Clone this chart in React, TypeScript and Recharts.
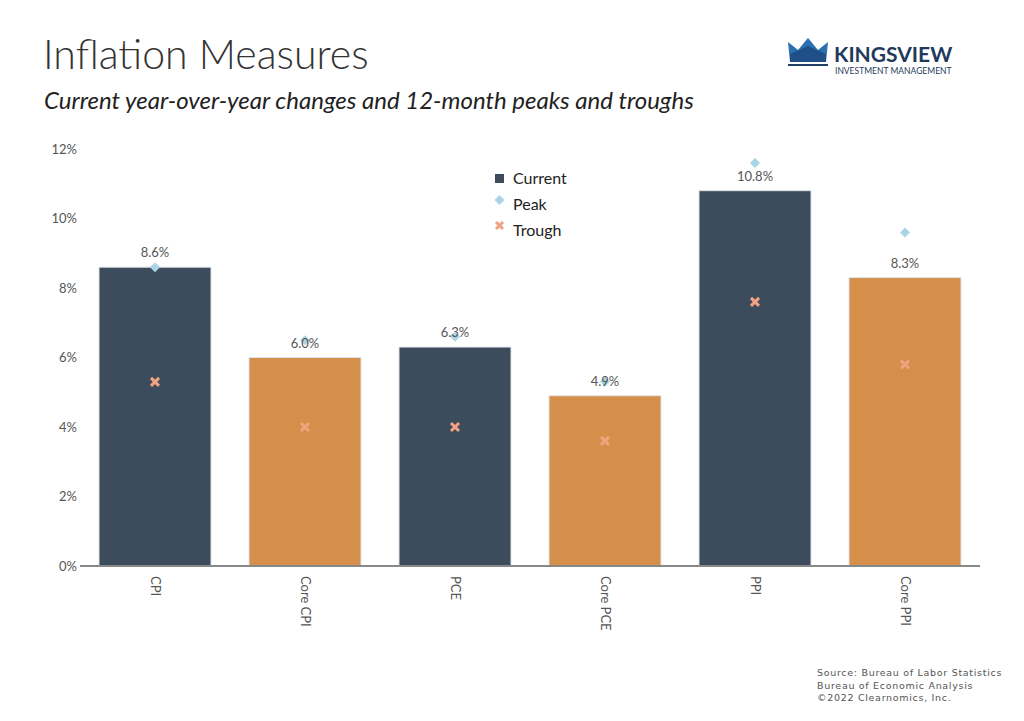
import React from 'react';
import {
  ComposedChart,
  Bar,
  Scatter,
  XAxis,
  YAxis,
  Cell,
  LabelList,
} from 'recharts';

const categories = ['CPI', 'Core CPI', 'PCE', 'Core PCE', 'PPI', 'Core PPI'];
const current = [8.6, 6.0, 6.3, 4.9, 10.8, 8.3];
const peak = [8.6, 6.5, 6.6, 5.3, 11.6, 9.6];
const trough = [5.3, 4.0, 4.0, 3.6, 7.6, 5.8];
const yTicks = [0, 2, 4, 6, 8, 10, 12];

const NAVY = '#3c4c5c';
const ORANGE = '#d68f4b';
const PEAK = '#a9d5e6';
const TROUGH = '#f2a382';
const FONT = 'Lato, "Open Sans", sans-serif';

const data = categories.map((name, i) => ({
  name,
  current: current[i],
  peak: peak[i],
  trough: trough[i],
}));

const XTick = (props: any) => {
  const { x, y, payload } = props;
  return (
    <text
      x={0}
      y={0}
      transform={`translate(${x - 4},${y + 2}) rotate(90)`}
      textAnchor="start"
      fontSize={13}
      fill="#555"
      fontFamily={FONT}
    >
      {payload.value}
    </text>
  );
};

const TroughShape = (props: any) => {
  const { cx, cy } = props;
  const d = 4;
  return (
    <g stroke={TROUGH} strokeWidth={3}>
      <line x1={cx - d} y1={cy - d} x2={cx + d} y2={cy + d} />
      <line x1={cx - d} y1={cy + d} x2={cx + d} y2={cy - d} />
    </g>
  );
};

const PeakShape = (props: any) => {
  const { cx, cy } = props;
  const r = 5;
  return (
    <polygon
      points={`${cx},${cy - r} ${cx + r},${cy} ${cx},${cy + r} ${cx - r},${cy}`}
      fill={PEAK}
    />
  );
};

const LegendBox = () => (
  <svg width={120} height={80} style={{ position: 'absolute', left: 493, top: 169 }}>
    <rect x={2} y={5} width={9} height={9} fill={NAVY} />
    <text x={20} y={15} fontSize={16} fill="#222" fontFamily={FONT}>Current</text>
    <polygon points="6.5,26 11.5,31 6.5,36 1.5,31" fill={PEAK} />
    <text x={20} y={41} fontSize={16} fill="#222" fontFamily={FONT}>Peak</text>
    <g stroke={TROUGH} strokeWidth={3}>
      <line x1={3} y1={53} x2={10} y2={60} />
      <line x1={3} y1={60} x2={10} y2={53} />
    </g>
    <text x={20} y={67} fontSize={16} fill="#222" fontFamily={FONT}>Trough</text>
  </svg>
);

const Logo = () => (
  <svg width={190} height={50} style={{ position: 'absolute', left: 784, top: 34 }}>
    <polygon points="4,8 14,16 24,4 34,16 44,8 42,28 6,28" fill="#2a6fb0" />
    <polygon points="6,20 24,12 42,20 42,28 6,28" fill="#1f4f86" />
    <rect x={4} y={30} width={40} height={2} fill="#1f3f66" />
    <text x={50} y={28} fontSize={21} fontWeight={700} fill="#1f3a5c" fontFamily={FONT}>
      KINGSVIEW
    </text>
    <text x={51} y={40} fontSize={8.5} fill="#1f3a5c" fontFamily={FONT}>
      INVESTMENT MANAGEMENT
    </text>
  </svg>
);

export default function App() {
  return (
    <div
      style={{
        position: 'absolute',
        left: 0,
        top: 0,
        width: 1024,
        height: 721,
        background: '#fff',
        fontFamily: FONT,
        overflow: 'hidden',
      }}
    >
      <div
        style={{
          position: 'absolute',
          left: 43,
          top: 33,
          fontSize: 41,
          fontWeight: 300,
          color: '#333',
          lineHeight: 1,
        }}
      >
        Inflation Measures
      </div>
      <div
        style={{
          position: 'absolute',
          left: 44,
          top: 88,
          fontSize: 24,
          fontStyle: 'italic',
          color: '#222',
          lineHeight: 1,
        }}
      >
        Current year-over-year changes and 12-month peaks and troughs
      </div>
      <Logo />

      <ComposedChart
        width={1024}
        height={721}
        data={data}
        margin={{ top: 149, right: 44, bottom: 95, left: 40 }}
        barCategoryGap={19}
      >
        <XAxis
          dataKey="name"
          tick={<XTick />}
          tickLine={false}
          axisLine={{ stroke: '#888', strokeWidth: 2 }}
          height={60}
          interval={0}
        />
        <YAxis
          domain={[0, 12]}
          ticks={yTicks}
          tickFormatter={(v: number) => `${v}%`}
          axisLine={false}
          tickLine={false}
          tickSize={3}
          tickMargin={0}
          width={40}
          tick={{ fontSize: 13, fill: '#555', fontFamily: FONT }}
        />
        <Bar dataKey="current" isAnimationActive={false} stroke="#dfe3e8" strokeWidth={1}>
          {data.map((d, i) => (
            <Cell key={d.name} fill={i % 2 === 0 ? NAVY : ORANGE} />
          ))}
          <LabelList
            dataKey="current"
            position="top"
            offset={10}
            formatter={(v: any) => `${Number(v).toFixed(1)}%`}
            style={{ fontSize: 13, fill: '#555', fontFamily: FONT }}
          />
        </Bar>
        <Scatter dataKey="peak" isAnimationActive={false} shape={<PeakShape />} />
        <Scatter dataKey="trough" isAnimationActive={false} shape={<TroughShape />} />
      </ComposedChart>

      <LegendBox />

      <div
        style={{
          position: 'absolute',
          left: 817,
          top: 667,
          fontSize: 9.5,
          lineHeight: '12.5px',
          color: '#555',
          fontFamily: '"DejaVu Sans", sans-serif',
          letterSpacing: 0.7,
          whiteSpace: 'pre',
        }}
      >
        {'Source: Bureau of Labor Statistics\nBureau of Economic Analysis\n©2022 Clearnomics, Inc.'}
      </div>
    </div>
  );
}
